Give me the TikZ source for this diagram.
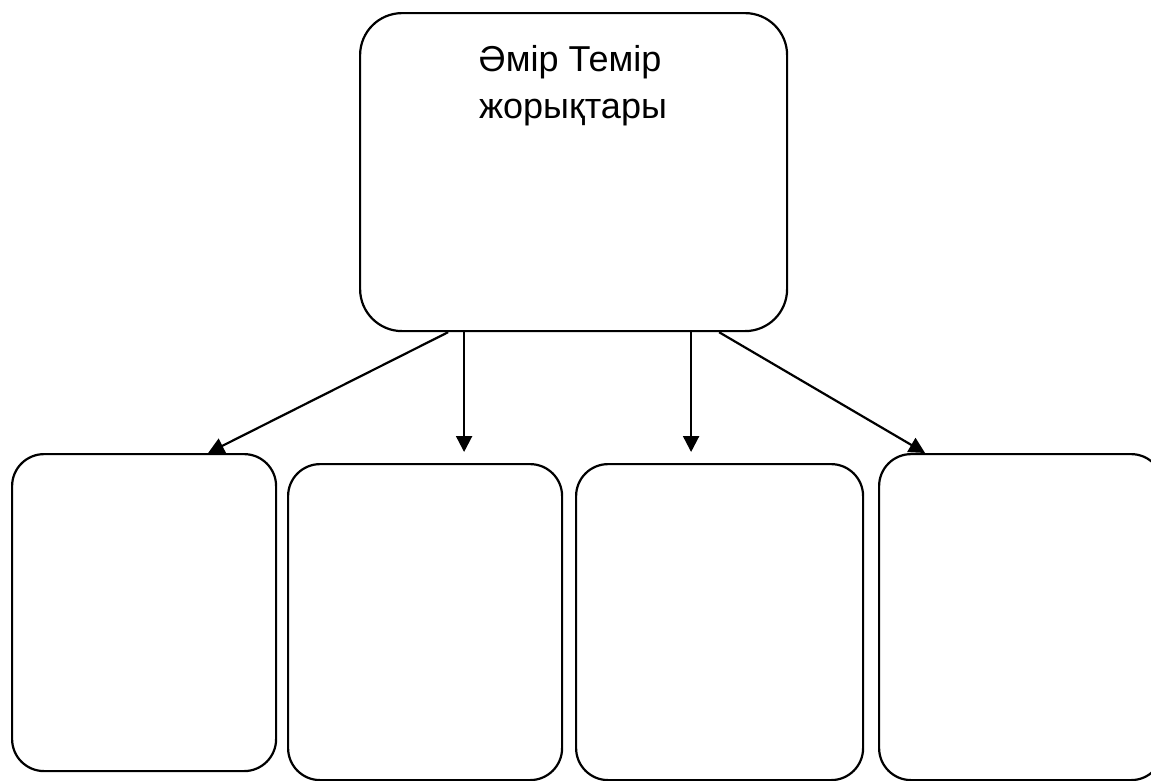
\documentclass[tikz,border=0pt]{standalone}
\usepackage{fontspec}
\setmainfont{Liberation Sans}
\usetikzlibrary{arrows.meta}
\begin{document}
\begin{tikzpicture}[x=1pt,y=-1pt,
  box/.style={draw=black, line width=2.2pt, rounded corners=32pt, fill=white, inner sep=0pt, anchor=north west},
  conn/.style={draw=black, line width=2.2pt, -{Triangle[length=16pt,width=16pt]}},
  lbl/.style={font=\fontsize{36}{47}\selectfont, anchor=base, inner sep=0pt}]
\path[fill=white] (0,0) rectangle (1151,780);
\useasboundingbox (0,0) rectangle (1151,780);
\begin{scope}
\clip (0,0) rectangle (1151,780);
\node[box, rounded corners=42pt, minimum width=427pt, minimum height=318pt] (top) at (359,12) {};
\node[box, minimum width=264pt, minimum height=317pt] (b1) at (11,453) {};
\node[box, minimum width=274pt, minimum height=316pt] (b2) at (287,463) {};
\node[box, minimum width=287pt, minimum height=316pt] (b3) at (575,463) {};
\node[box, minimum width=284pt, minimum height=326pt] (b4) at (878,453) {};
\end{scope}
\node[lbl] (t1) at (570,71) {Әмір Темір};
\node[lbl] (t2) at (573,118) {жорықтары};
\draw[conn] ([xshift=-125.5pt]top.south) -- ([xshift=64pt]b1.north);
\draw[conn] ([xshift=-109.5pt]top.south) -- ([xshift=39pt,yshift=11pt]b2.north);
\draw[conn] ([xshift=117.5pt]top.south) -- ([xshift=-28.5pt,yshift=11pt]b3.north);
\draw[conn] ([xshift=145.5pt]top.south) -- ([xshift=-96pt]b4.north);
\end{tikzpicture}
\end{document}
